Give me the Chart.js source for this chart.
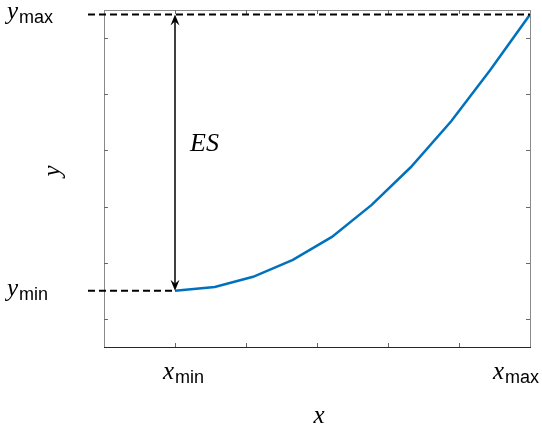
<!DOCTYPE html>
<html>
<head>
<meta charset="utf-8">
<script src="https://cdn.jsdelivr.net/npm/chart.js@4/dist/chart.umd.min.js"></script>
<style>
  html, body { margin: 0; padding: 0; background: #fff; }
</style>
</head>
<body>
<canvas id="chart" width="542" height="425"></canvas>
<script>
// curve
const xValues = [1, 1.56, 2.1, 2.66, 3.21, 3.77, 4.32, 4.89, 5.44, 6]
const yValues = [1.0, 1.07, 1.25, 1.55, 1.96, 2.53, 3.2, 4.02, 4.93, 5.92]

// axis ranges and tick positions
const xRange = [0, 6]
const yRange = [0, 6]
const xTicks = [1, 2, 3, 4, 5]
const yTicks = [0.5, 1.5, 2.5, 3.5, 4.5, 5.5]

// marked extremes
const xMin = 1
const xMax = 6
const yMin = 1.0
const yMax = 5.92

const serif = '"Liberation Serif", "DejaVu Serif", serif'
const sans = '"Liberation Sans", Arial, sans-serif'

// draws "letter" in italic serif with a sans subscript
function mathLabel(ctx, letter, sub, x, y) {
  ctx.textAlign = 'left'
  ctx.textBaseline = 'alphabetic'
  ctx.font = 'italic 25px ' + serif
  ctx.fillText(letter, x, y)
  const w = ctx.measureText(letter).width
  ctx.font = '18px ' + sans
  ctx.fillText(sub, x + w + 1, y + 4)
}

function arrowHead(ctx, x, y, dir) {
  ctx.beginPath()
  ctx.moveTo(x, y)
  ctx.lineTo(x - 4.5, y + dir * 11)
  ctx.lineTo(x, y + dir * 7)
  ctx.lineTo(x + 4.5, y + dir * 11)
  ctx.closePath()
  ctx.fill()
}

const decorations = {
  id: 'decorations',
  afterDraw(chart) {
    const { ctx, chartArea: a, scales } = chart
    const sx = scales.x
    const sy = scales.y
    ctx.save()

    // box with inward ticks
    ctx.lineWidth = 1
    ctx.strokeStyle = '#8a8a8a'
    ctx.strokeRect(Math.round(a.left) + 0.5, Math.round(a.top) + 0.5,
      Math.round(a.right - a.left), Math.round(a.bottom - a.top))
    ctx.strokeStyle = '#262626'
    ctx.beginPath()
    ctx.moveTo(a.left, Math.round(a.bottom) + 0.5)
    ctx.lineTo(a.right + 1, Math.round(a.bottom) + 0.5)
    ctx.stroke()
    ctx.strokeStyle = '#666'
    ctx.beginPath()
    xTicks.forEach(v => {
      const p = Math.round(sx.getPixelForValue(v)) + 0.5
      ctx.moveTo(p, a.bottom); ctx.lineTo(p, a.bottom - 4)
      ctx.moveTo(p, a.top); ctx.lineTo(p, a.top + 4)
    })
    yTicks.forEach(v => {
      const p = Math.round(sy.getPixelForValue(v)) + 0.5
      ctx.moveTo(a.left, p); ctx.lineTo(a.left + 4, p)
      ctx.moveTo(a.right, p); ctx.lineTo(a.right - 4, p)
    })
    ctx.stroke()

    // dashed guide lines
    const pxMin = sx.getPixelForValue(xMin)
    const pxMax = sx.getPixelForValue(xMax)
    const pyMin = sy.getPixelForValue(yMin)
    const pyMax = sy.getPixelForValue(yMax)
    ctx.strokeStyle = '#000'
    ctx.lineWidth = 2
    ctx.setLineDash([7, 4])
    ctx.beginPath()
    ctx.moveTo(88, pyMax); ctx.lineTo(pxMax, pyMax)
    ctx.moveTo(88, pyMin); ctx.lineTo(pxMin, pyMin)
    ctx.stroke()
    ctx.setLineDash([])

    // double arrow
    ctx.lineWidth = 1.5
    ctx.fillStyle = '#000'
    ctx.beginPath()
    ctx.moveTo(pxMin, pyMax + 6); ctx.lineTo(pxMin, pyMin - 6)
    ctx.stroke()
    arrowHead(ctx, pxMin, pyMax, 1)
    arrowHead(ctx, pxMin, pyMin, -1)

    // text
    ctx.fillStyle = '#000'
    ctx.font = 'italic 26px ' + serif
    ctx.textAlign = 'left'
    ctx.fillText('ES', pxMin + 15, 151)

    mathLabel(ctx, 'y', 'max', 7, pyMax + 5)
    mathLabel(ctx, 'y', 'min', 7, pyMin + 5)
    mathLabel(ctx, 'x', 'min', pxMin - 12, 379)
    mathLabel(ctx, 'x', 'max', pxMax - 37, 379)

    ctx.font = 'italic 25px ' + serif
    ctx.textAlign = 'center'
    ctx.fillText('x', (a.left + a.right) / 2 + 2, 423)
    ctx.save()
    ctx.translate(60, 171)
    ctx.rotate(-Math.PI / 2)
    ctx.fillText('y', 0, 0)
    ctx.restore()

    ctx.restore()
  }
}

// eslint-disable-next-line no-unused-vars
const lineChart = new Chart(document.getElementById('chart'), {
  type: 'line',
  data: {
    datasets: [
      {
        data: xValues.map((x, i) => ({ x, y: yValues[i] })),
        borderColor: '#0072BD',
        borderWidth: 2.5,
        pointRadius: 0,
        tension: 0,
        fill: false,
      },
    ],
  },
  options: {
    responsive: false,
    animation: false,
    layout: { padding: { left: 104, right: 12, top: 10, bottom: 78 } },
    plugins: { legend: { display: false }, tooltip: { enabled: false } },
    scales: {
      x: { type: 'linear', min: xRange[0], max: xRange[1], display: false },
      y: { type: 'linear', min: yRange[0], max: yRange[1], display: false },
    },
  },
  plugins: [decorations],
})
</script>
</body>
</html>
